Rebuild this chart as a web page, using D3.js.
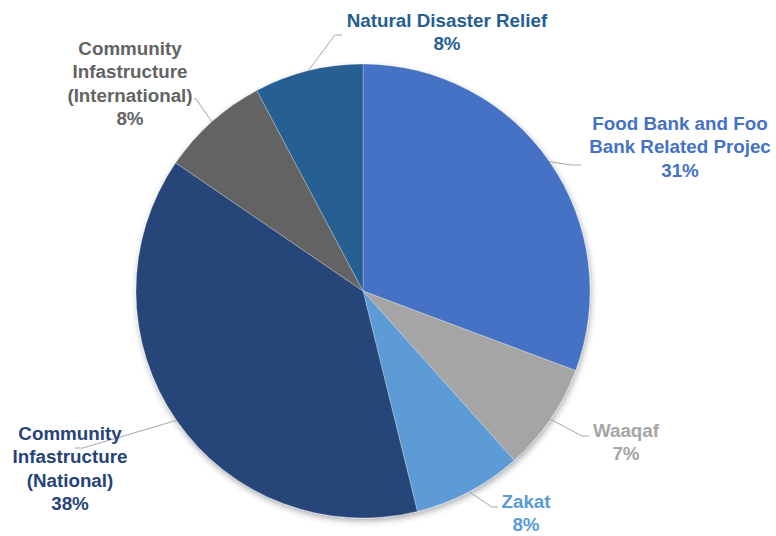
<!DOCTYPE html>
<html>
<head>
<meta charset="utf-8">
<script src="https://cdn.jsdelivr.net/npm/d3@7"></script>
<style>
  html, body { margin: 0; padding: 0; background: #fff; }
  svg { display: block; }
  text { font-family: "Liberation Sans", Arial, sans-serif; font-weight: bold; }
</style>
</head>
<body>
<svg id="chart" width="776" height="536"></svg>
<script>
// ---- data ----
const categories = [
  "Food Bank and Food Bank Related Projects",
  "Waaqaf",
  "Zakat",
  "Community Infastructure (National)",
  "Community Infastructure (International)",
  "Natural Disaster Relief"
];
// label lines as displayed (text is clipped in the original)
const labelLines = [
  ["Food Bank and Foo", "Bank Related Projec"],
  ["Waaqaf"],
  ["Zakat"],
  ["Community", "Infastructure", "(National)"],
  ["Community", "Infastructure", "(International)"],
  ["Natural Disaster Relief"]
];
const values = [30.7, 7.7, 7.75, 38.4, 7.7, 7.75];
const pctLabels = ["31%", "7%", "8%", "38%", "8%", "8%"];
const colors = ["#4472C4", "#A5A5A5", "#5B9BD5", "#264478", "#636363", "#255E91"];

// ---- layout ----
const cx = 363, cy = 291, R = 227;
const fontSize = 18.8, lineH = 23.4;
// label centre x and first baseline y
const labelPos = [
  {x: 680, y: 130},
  {x: 626, y: 437},
  {x: 526, y: 508},
  {x: 70,  y: 440},
  {x: 130, y: 55},
  {x: 447, y: 27}
];
// leader line elbow + end points
const leaders = [
  [[571, 165], [581, 165]],
  [[582, 436], [589, 436]],
  [[492, 507], [498, 507]],
  [[83, 448], [75, 448]],
  [[196, 99], [194, 99]],
  [[335, 35], [342, 35]]
];

const svg = d3.select("#chart");
const defs = svg.append("defs");
const f = defs.append("filter").attr("id", "shadow")
  .attr("x", "-10%").attr("y", "-10%").attr("width", "120%").attr("height", "120%");
f.append("feDropShadow").attr("dx", 1).attr("dy", 3).attr("stdDeviation", 3)
  .attr("flood-color", "#000").attr("flood-opacity", 0.32);

const pie = d3.pie().sort(null).value(d => d);
const arcs = pie(values);
const arc = d3.arc().innerRadius(0).outerRadius(R);

const g = svg.append("g").attr("transform", `translate(${cx},${cy})`);
g.append("g").attr("filter", "url(#shadow)")
  .selectAll("path").data(arcs).join("path")
  .attr("d", arc)
  .attr("fill", (d, i) => colors[i])
  .attr("stroke", "#ffffff")
  .attr("stroke-opacity", 0.35)
  .attr("stroke-width", 0.8);

// leader lines from outer edge at slice mid-angle
const lines = svg.append("g");
arcs.forEach((d, i) => {
  const a = (d.startAngle + d.endAngle) / 2;
  const p0 = [cx + R * Math.sin(a), cy - R * Math.cos(a)];
  const pts = [p0, ...leaders[i]];
  lines.append("path")
    .attr("d", d3.line()(pts))
    .attr("fill", "none")
    .attr("stroke", "#A6A6A6")
    .attr("stroke-width", 1);
});

// labels
const labels = svg.append("g");
arcs.forEach((d, i) => {
  const t = labels.append("text")
    .attr("text-anchor", "middle")
    .attr("font-size", fontSize)
    .attr("fill", colors[i]);
  const all = labelLines[i].concat([pctLabels[i]]);
  all.forEach((s, k) => {
    t.append("tspan").attr("x", labelPos[i].x).attr("y", labelPos[i].y + k * lineH).text(s);
  });
});
</script>
</body>
</html>
